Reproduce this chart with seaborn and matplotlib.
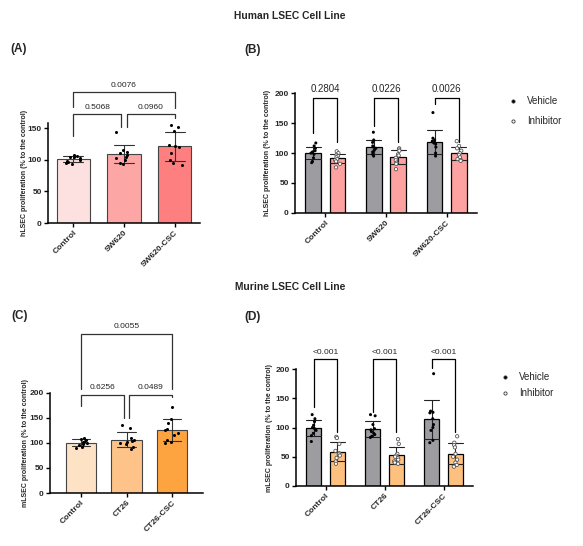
import numpy as np
import pandas as pd
import seaborn as sns
import matplotlib.pyplot as plt
from matplotlib.lines import Line2D

# ---- data ----
groups_h = ["Control", "SW620", "SW620-CSC"]
groups_m = ["Control", "CT26", "CT26-CSC"]
treatments = ["Vehicle", "Inhibitor"]

# (A) hLSEC
a_control = [107, 106, 105, 104, 102, 100, 98, 96, 95, 93]
a_sw620 = [143, 116, 112, 110, 108, 105, 103, 100, 95, 93]
a_csc = [155, 152, 145, 123, 122, 120, 110, 100, 95, 92]

# (B) hLSEC vehicle / inhibitor
b_veh_control = [117, 112, 108, 104, 102, 100, 98, 92, 86, 84]
b_inh_control = [103, 100, 97, 95, 93, 90, 88, 86, 82, 76]
b_veh_sw620 = [135, 122, 118, 112, 110, 108, 105, 102, 98, 95]
b_inh_sw620 = [108, 106, 104, 98, 96, 92, 88, 84, 82, 73]
b_veh_csc = [168, 125, 122, 120, 118, 117, 115, 110, 100, 95]
b_inh_csc = [120, 112, 108, 104, 100, 97, 93, 90, 88, 87]

# (C) mLSEC
c_control = [110, 108, 106, 104, 101, 99, 97, 95, 92, 90]
c_ct26 = [136, 130, 110, 106, 104, 102, 100, 98, 92, 88]
c_csc = [172, 148, 140, 128, 126, 120, 115, 105, 102, 100]

# (D) mLSEC vehicle / inhibitor
d_veh_control = [122, 115, 110, 104, 100, 98, 95, 90, 86, 76]
d_inh_control = [84, 82, 72, 60, 56, 54, 52, 48, 42, 38]
d_veh_ct26 = [122, 120, 105, 98, 96, 93, 90, 88, 85, 83]
d_inh_ct26 = [80, 72, 55, 52, 50, 48, 45, 42, 40, 38]
d_veh_csc = [192, 128, 126, 125, 115, 105, 100, 95, 78, 74]
d_inh_csc = [85, 74, 70, 66, 55, 50, 45, 40, 36, 33]

# p-values: (x1, x2, bracket height, leg1 end, leg2 end, text)
p_a = [(0, 0.94, 172, 138, 152, "0.5068"), (1.06, 2, 172, 152, 166, "0.0960"),
       (0, 2, 207, 183, 181, "0.0076")]
p_b = [(-0.2, 0.2, 193, 133, 119, "0.2804"), (0.8, 1.2, 193, 145, 119, "0.0226"),
       (1.8, 2.2, 193, 183, 119, "0.0026")]
p_c = [(0, 0.94, 196, 174, 150, "0.6256"), (1.06, 2, 196, 150, 192, "0.0489"),
       (0, 2, 318, 208, 208, "0.0055")]
p_d = [(-0.2, 0.2, 217, 135, 92, "<0.001"), (0.8, 1.2, 217, 127, 92, "<0.001"),
       (1.8, 2.2, 217, 202, 92, "<0.001")]

pal_a = ["#fde0e0", "#fca6a6", "#fd7f7f"]
pal_c = ["#fde2c6", "#fdc389", "#fda33f"]
veh_color = "#9c9ca1"


def long_df(groups, values):
    rows = []
    for g, vals in zip(groups, values):
        for v in vals:
            rows.append((g, v))
    return pd.DataFrame(rows, columns=["group", "value"])


def long_df2(groups, veh, inh):
    rows = []
    for g, v1, v2 in zip(groups, veh, inh):
        rows += [(g, "Vehicle", v) for v in v1]
        rows += [(g, "Inhibitor", v) for v in v2]
    return pd.DataFrame(rows, columns=["group", "treatment", "value"])


df_a = long_df(groups_h, [a_control, a_sw620, a_csc])
df_c = long_df(groups_m, [c_control, c_ct26, c_csc])
df_b = long_df2(groups_h, [b_veh_control, b_veh_sw620, b_veh_csc],
                [b_inh_control, b_inh_sw620, b_inh_csc])
df_d = long_df2(groups_m, [d_veh_control, d_veh_ct26, d_veh_csc],
                [d_inh_control, d_inh_ct26, d_inh_csc])

sns.set_theme(style="ticks")
plt.rcParams["font.family"] = ["Liberation Sans", "DejaVu Sans"]
np.random.seed(3)

W, H = 583, 546
fig = plt.figure(figsize=(W / 100, H / 100), dpi=100)


def px_axes(left, right, bottom, top):
    return fig.add_axes([left / W, 1 - bottom / H, (right - left) / W, (bottom - top) / H])


def style(ax, ylim, yticks, ylabel, xlim, labx):
    ax.set_ylim(*ylim)
    ax.set_xlim(*xlim)
    ax.set_yticks(yticks)
    ax.set_ylabel(ylabel, fontsize=5, fontweight="bold")
    ax.yaxis.set_label_coords(labx, 0.5)
    ax.set_xlabel("")
    sns.despine(ax=ax)
    for s in ["left", "bottom"]:
        ax.spines[s].set_linewidth(1.1)
        ax.spines[s].set_color("black")
    ax.tick_params(axis="both", length=3, width=1, color="black", labelsize=6, pad=1.5)
    for t in ax.get_yticklabels():
        t.set_fontweight("bold")
    for t in ax.get_xticklabels():
        t.set_fontweight("bold")
        t.set_rotation(45)
        t.set_ha("right")
        t.set_rotation_mode("anchor")


def brackets(ax, specs, color="black", lw=0.9, fs=6):
    for x1, x2, h, y1, y2, txt in specs:
        ax.plot([x1, x1, x2, x2], [y1, h, h, y2], color=color, lw=lw, clip_on=False)
        ax.annotate(txt, ((x1 + x2) / 2, h), xytext=(0, 2.5), textcoords="offset points",
                    ha="center", va="bottom", fontsize=fs, annotation_clip=False)


def single_panel(ax, df, order, pal):
    sns.barplot(data=df, x="group", y="value", hue="group", order=order, palette=pal,
                saturation=1, legend=False, errorbar="sd", capsize=0.4, width=0.66,
                edgecolor="#444444", linewidth=0.8,
                err_kws={"linewidth": 0.8, "color": "#333333"}, ax=ax)
    sns.stripplot(data=df, x="group", y="value", order=order, color="black", size=2.2,
                  jitter=0.17, linewidth=0, ax=ax)


def dodge_panel(ax, df, order, inh_color):
    sns.barplot(data=df, x="group", y="value", hue="treatment", order=order,
                hue_order=treatments, palette={"Vehicle": veh_color, "Inhibitor": inh_color},
                saturation=1, legend=False, errorbar="sd", capsize=0.5, width=0.8, gap=0.36,
                edgecolor="black", linewidth=0.9,
                err_kws={"linewidth": 0.8, "color": "#222222"}, ax=ax)
    sns.stripplot(data=df[df.treatment == "Vehicle"], x="group", y="value", hue="treatment",
                  order=order, hue_order=treatments, dodge=True,
                  palette={"Vehicle": "black", "Inhibitor": "black"}, size=2.2, jitter=0.09,
                  linewidth=0, legend=False, ax=ax)
    sns.stripplot(data=df[df.treatment == "Inhibitor"], x="group", y="value", hue="treatment",
                  order=order, hue_order=treatments, dodge=True,
                  palette={"Vehicle": "white", "Inhibitor": "white"}, size=2.4, jitter=0.09,
                  edgecolor="#555555", linewidth=0.6, legend=False, ax=ax)


def legend(x, y1, y2):
    for yy, lab, fc in [(y1, "Vehicle", "black"), (y2, "Inhibitor", "white")]:
        fig.lines.append(Line2D([x / W], [1 - yy / H], transform=fig.transFigure, marker="o",
                                markersize=2.3, markerfacecolor=fc, markeredgecolor="#333333",
                                markeredgewidth=0.6, linestyle="none"))
        fig.text((x + 14) / W, 1 - yy / H, lab, fontsize=7, va="center", ha="left")


# (A)
ax_a = px_axes(48, 200, 223, 123)
single_panel(ax_a, df_a, groups_h, pal_a)
style(ax_a, (0, 158), [0, 50, 100, 150], "hLSEC proliferation (% to the control)",
      (-0.5, 2.5), -0.13)
brackets(ax_a, p_a, color="#333333")

# (B)
ax_b = px_axes(295, 477, 212.7, 93.5)
dodge_panel(ax_b, df_b, groups_h, "#fda1a1")
style(ax_b, (0, 200), [0, 50, 100, 150, 200], "hLSEC proliferation (% to the control)",
      (-0.5, 2.5), -0.13)
brackets(ax_b, p_b, fs=7)
legend(513, 101, 121)

# (C)
ax_c = px_axes(50, 203, 493, 392.7)
single_panel(ax_c, df_c, groups_m, pal_c)
style(ax_c, (0, 200), [0, 50, 100, 150, 200], "mLSEC proliferation (% to the control)",
      (-0.68, 2.68), -0.135)
brackets(ax_c, p_c, color="#333333")

# (D)
ax_d = px_axes(296, 473, 486, 369)
dodge_panel(ax_d, df_d, groups_m, "#fdc07f")
style(ax_d, (0, 200), [0, 50, 100, 150, 200], "mLSEC proliferation (% to the control)",
      (-0.5, 2.5), -0.13)
brackets(ax_d, p_d)
legend(505, 377, 393)

# titles and panel letters
fig.text(290 / W, 1 - 16 / H, "Human LSEC Cell Line", ha="center", va="center",
         fontsize=7.4, fontweight="bold")
fig.text(290 / W, 1 - 287 / H, "Murine LSEC Cell Line", ha="center", va="center",
         fontsize=7.4, fontweight="bold")
for x, y, lab in [(10, 49, "(A)"), (244, 50, "(B)"), (11, 316, "(C)"), (244, 317, "(D)")]:
    fig.text(x / W, 1 - y / H, lab, ha="left", va="center", fontsize=8.5, fontweight="bold")

fig.savefig("out.png", dpi=100)
